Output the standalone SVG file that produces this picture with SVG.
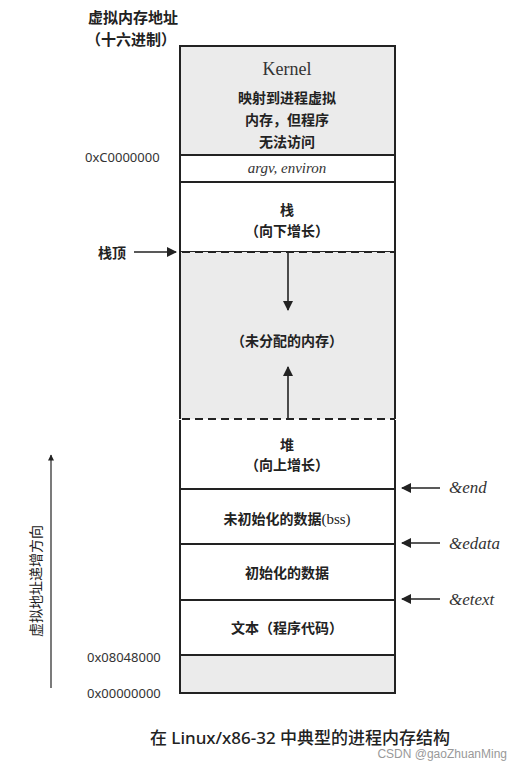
<svg xmlns="http://www.w3.org/2000/svg" width="528" height="770" viewBox="0 0 528 770">
<style>
.cjk{font-family:"Liberation Serif","Noto Sans CJK SC",serif;font-size:14px;font-weight:bold;fill:#222;text-anchor:middle}
.hex{font-family:"Noto Sans","Liberation Sans",sans-serif;font-size:13px;fill:#333}
.sym{font-family:"Liberation Serif",serif;font-style:italic;font-size:17px;fill:#333}
.line{stroke:#222;stroke-width:2}
.dash{stroke:#222;stroke-width:2;stroke-dasharray:8 5;fill:none}
.arr{stroke:#222;stroke-width:1.6;fill:none}
.gray{fill:#ebebeb}
.white{fill:#fff}
</style>
<defs>
<marker id="ah" viewBox="0 0 10 10" refX="9" refY="5" markerWidth="8" markerHeight="6" markerUnits="userSpaceOnUse" orient="auto">
<path d="M0,0 L10,5 L0,10 z" fill="#222"/>
</marker>
<marker id="ah2" viewBox="0 0 10 10" refX="9" refY="5" markerWidth="16" markerHeight="10" markerUnits="userSpaceOnUse" orient="auto">
<path d="M0,0 L10,5 L0,10 z" fill="#222"/>
</marker>
</defs>
<rect width="528" height="770" fill="#fff"/>

<g id="title">
<text class="cjk" x="133" y="23" style="font-size:15px">虚拟内存地址</text>
<text class="cjk" x="131" y="45" style="font-size:15px">（十六进制）</text>
</g>

<g id="kernel">
<rect x="180" y="46" width="215" height="109" class="line gray"/>
<text class="sym" x="287" y="75" style="font-style:normal;font-size:18px;text-anchor:middle">Kernel</text>
<text class="cjk" x="287" y="103">映射到进程虚拟</text>
<text class="cjk" x="287" y="125">内存，但程序</text>
<text class="cjk" x="287" y="147">无法访问</text>
</g>

<g id="argv">
<rect x="180" y="155" width="215" height="27" class="line white"/>
<text class="sym" x="287" y="173" style="font-size:15px;text-anchor:middle">argv, environ</text>
</g>

<g id="stack">
<rect x="180" y="182" width="215" height="70" class="line white"/>
<text class="cjk" x="287" y="215">栈</text>
<text class="cjk" x="287" y="236">（向下增长）</text>
</g>

<g id="unalloc">
<rect x="180" y="252" width="215" height="167" class="gray"/>
<line x1="180" y1="252" x2="180" y2="419" class="line"/>
<line x1="395" y1="252" x2="395" y2="419" class="line"/>
<line x1="182" y1="252" x2="395" y2="252" class="dash"/>
<line x1="182" y1="419" x2="395" y2="419" class="dash"/>
<text class="cjk" x="287" y="346">（未分配的内存）</text>
</g>

<g id="heap">
<rect x="180" y="420" width="215" height="69" class="white"/>
<line x1="180" y1="420" x2="180" y2="489" class="line"/>
<line x1="395" y1="420" x2="395" y2="489" class="line"/>
<line x1="182" y1="419" x2="395" y2="419" class="dash"/>
<text class="cjk" x="287" y="450">堆</text>
<text class="cjk" x="287" y="470">（向上增长）</text>
</g>

<g id="bss">
<rect x="180" y="489" width="215" height="55" class="line white"/>
<text class="cjk" x="287" y="524">未初始化的数据<tspan style="font-weight:normal;font-size:15px">(bss)</tspan></text>
</g>

<g id="data">
<rect x="180" y="544" width="215" height="56" class="line white"/>
<text class="cjk" x="287" y="578">初始化的数据</text>
</g>

<g id="text">
<rect x="180" y="600" width="215" height="55" class="line white"/>
<text class="cjk" x="287" y="633">文本（程序代码）</text>
</g>

<g id="reserved">
<rect x="180" y="655" width="215" height="38" class="line gray"/>
</g>

<g id="labels">
<text class="hex" x="85" y="162">0xC0000000</text>
<text class="hex" x="87" y="662">0x08048000</text>
<text class="hex" x="87" y="698">0x00000000</text>
<text class="cjk" x="112" y="258">栈顶</text>
<text class="sym" x="449" y="493">&amp;end</text>
<text class="sym" x="449" y="549">&amp;edata</text>
<text class="sym" x="449" y="605">&amp;etext</text>
<text class="cjk" transform="translate(41,581) rotate(-90)" style="font-family:'Noto Sans CJK SC',sans-serif;font-size:14px;font-weight:normal">虚拟地址递增方向</text>
</g>

<g id="connectors">
<line x1="134" y1="252" x2="176" y2="252" class="arr" marker-end="url(#ah2)"/>
<line x1="288" y1="253" x2="288" y2="310" class="arr" marker-end="url(#ah2)"/>
<line x1="288" y1="418" x2="288" y2="367" class="arr" marker-end="url(#ah2)"/>
<line x1="440" y1="488" x2="402" y2="488" class="arr" marker-end="url(#ah2)"/>
<line x1="440" y1="543" x2="402" y2="543" class="arr" marker-end="url(#ah2)"/>
<line x1="440" y1="599" x2="402" y2="599" class="arr" marker-end="url(#ah2)"/>
<line x1="51" y1="688" x2="51" y2="455" stroke="#222" stroke-width="1.2" marker-end="url(#ah)"/>
</g>

<g id="caption">
<text x="300" y="744" style="font-family:'Noto Sans','Noto Sans CJK SC',sans-serif;font-size:17px;font-weight:500;fill:#222;text-anchor:middle">在 Linux/x86-32 中典型的进程内存结构</text>
<text x="507" y="758" style="font-family:'Liberation Sans',sans-serif;font-size:12px;fill:#999;text-anchor:end">CSDN @gaoZhuanMing</text>
</g>
</svg>
